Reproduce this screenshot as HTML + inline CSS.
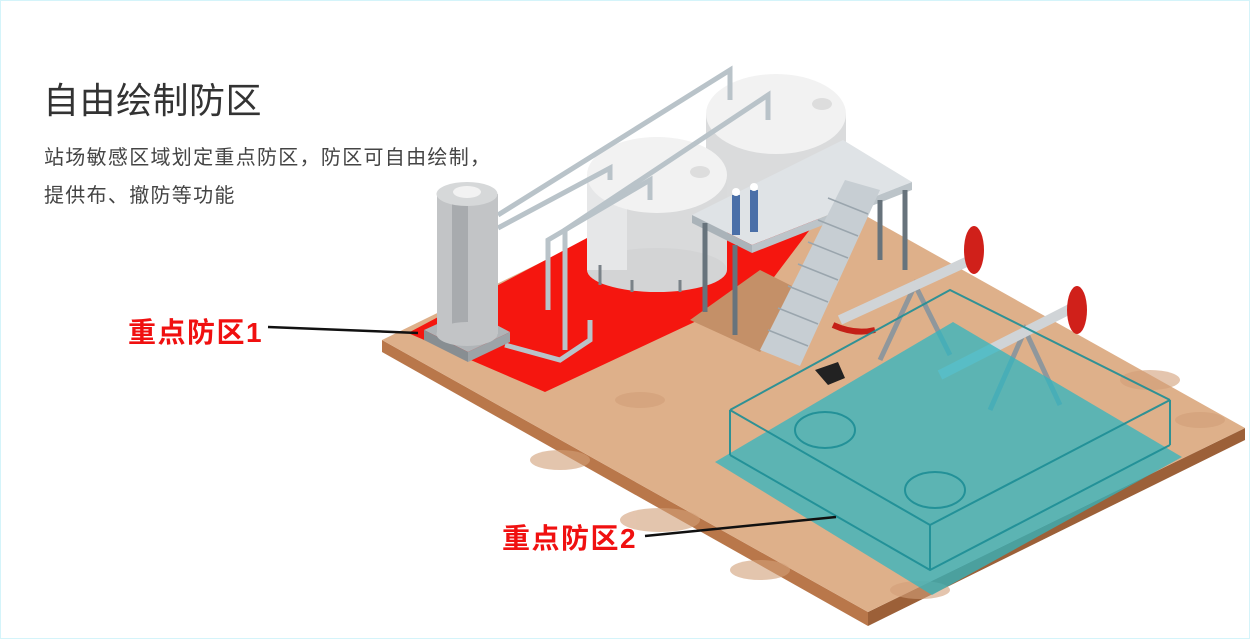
<!DOCTYPE html>
<html><head><meta charset="utf-8"><style>
html,body{margin:0;padding:0;background:#fff}
body{width:1250px;height:639px;position:relative;overflow:hidden;font-family:"Liberation Sans","Noto Sans CJK SC",sans-serif}
.t{position:absolute;left:43px;top:72px;font-size:36px;color:#333;letter-spacing:0.5px}
.s{position:absolute;left:44px;font-size:20px;color:#444;letter-spacing:1.3px}
.l{position:absolute;font-size:28px;font-weight:bold;color:#f01010;letter-spacing:1.5px}
</style></head><body>
<svg width="1250" height="639" style="position:absolute;left:0;top:0">
<rect x="0.5" y="0.5" width="1249" height="638" fill="none" stroke="#d4f4fa"/>
<polygon points="382,340 868,612 868,626 382,352" fill="#b9774a"/>
<polygon points="868,612 1245,428 1245,440 868,626" fill="#9c6038"/>
<polygon points="382,340 759,156 1245,428 868,612" fill="#deb08a"/>
<g fill="#d29f78" opacity="0.6">
<ellipse cx="560" cy="460" rx="30" ry="10"/><ellipse cx="660" cy="520" rx="40" ry="12"/><ellipse cx="760" cy="570" rx="30" ry="10"/>
<ellipse cx="640" cy="400" rx="25" ry="8"/><ellipse cx="1150" cy="380" rx="30" ry="10"/><ellipse cx="1200" cy="420" rx="25" ry="8"/>
<ellipse cx="920" cy="590" rx="30" ry="9"/>
</g>
<polygon points="408,333 545,392 765,289 830,203 760,160 587,238" fill="#f5160f"/>
<polygon points="690,320 760,352 820,300 760,270" fill="#c49068"/>
<rect x="706" y="114" width="140" height="100" fill="#dadbdc"/>
<ellipse cx="776" cy="114" rx="70" ry="40" fill="#f2f2f2"/>
<ellipse cx="822" cy="104" rx="10" ry="6" fill="#ddd"/>
<rect x="587" y="175" width="140" height="95" fill="#d9dadb"/>
<ellipse cx="657" cy="270" rx="70" ry="22" fill="#d3d4d5"/>
<rect x="587" y="175" width="40" height="95" fill="#e6e7e8"/>
<ellipse cx="657" cy="175" rx="70" ry="38" fill="#f2f2f2"/>
<ellipse cx="700" cy="172" rx="10" ry="6" fill="#ddd"/>
<g stroke="#7a8288" stroke-width="3"><line x1="600" y1="265" x2="600" y2="285"/><line x1="632" y1="280" x2="632" y2="292"/><line x1="680" y1="280" x2="680" y2="292"/></g>
<g fill="none" stroke="#b9c3c9" stroke-width="5">
<polyline points="498,215 730,70 730,100"/><polyline points="498,228 610,168 610,180"/>
<polyline points="548,310 548,240 650,180 650,200"/><polyline points="565,350 565,230 768,95 768,120"/>
<polyline points="505,345 560,360 590,340 590,320"/>
</g>
<polygon points="692,215 843,140 912,182 752,245" fill="#dfe3e6"/>
<polygon points="692,215 752,245 752,253 692,223" fill="#aab3b9"/>
<polygon points="752,245 912,182 912,190 752,253" fill="#bcc4c9"/>
<g stroke="#67737c" stroke-width="5"><line x1="705" y1="223" x2="705" y2="312"/><line x1="735" y1="245" x2="735" y2="335"/><line x1="905" y1="190" x2="905" y2="270"/><line x1="880" y1="200" x2="880" y2="260"/></g>
<polygon points="760,350 800,366 880,190 845,180" fill="#c7ced3"/>
<g stroke="#9aa5ad" stroke-width="1.5">
<line x1="768" y1="330" x2="808" y2="346"/><line x1="778" y1="308" x2="818" y2="324"/><line x1="788" y1="286" x2="828" y2="302"/><line x1="798" y1="264" x2="838" y2="280"/><line x1="808" y1="242" x2="848" y2="258"/><line x1="818" y1="220" x2="858" y2="236"/><line x1="828" y1="198" x2="868" y2="214"/></g>
<rect x="732" y="195" width="8" height="40" fill="#4a6fa8"/><rect x="750" y="190" width="8" height="42" fill="#4a6fa8"/>
<circle cx="736" cy="192" r="4" fill="#fff"/><circle cx="754" cy="187" r="4" fill="#fff"/>
<polygon points="424,330 468,352 510,332 468,310" fill="#b0b4b7"/>
<polygon points="424,330 468,352 468,362 424,340" fill="#888e92"/>
<polygon points="468,352 510,332 510,342 468,362" fill="#9da3a7"/>
<rect x="437" y="194" width="61" height="140" fill="#c2c4c6"/>
<rect x="452" y="194" width="16" height="140" fill="#a8abae"/>
<ellipse cx="467" cy="334" rx="30.5" ry="12" fill="#c2c4c6"/>
<ellipse cx="467" cy="194" rx="30.5" ry="12" fill="#d6d8d9"/>
<ellipse cx="467" cy="192" rx="14" ry="6" fill="#f2f2f2"/>
<g stroke="#8f979c" stroke-width="5" fill="none">
<polyline points="880,360 915,285 950,355"/><polyline points="990,410 1025,330 1060,405"/>
</g>
<line x1="840" y1="320" x2="975" y2="258" stroke="#d0d4d7" stroke-width="10"/>
<line x1="940" y1="375" x2="1072" y2="308" stroke="#d0d4d7" stroke-width="10"/>
<ellipse cx="974" cy="250" rx="10" ry="24" fill="#d0201a"/><ellipse cx="1077" cy="310" rx="10" ry="24" fill="#d0201a"/>
<path d="M833 325 Q855 335 875 330" stroke="#c42017" stroke-width="6" fill="none"/>
<polygon points="815,370 838,362 845,378 828,385" fill="#222"/>
<polygon points="715,462 932,595 1182,457 953,322" fill="#30b6c0" opacity="0.75"/>
<g stroke="#1d8e96" stroke-width="2" fill="none" opacity="0.9">
<polyline points="730,410 930,525 1170,400"/><polyline points="730,410 730,455"/><polyline points="930,525 930,570"/><polyline points="1170,400 1170,445"/>
<polyline points="730,455 930,570 1170,445"/>
<polyline points="730,410 950,290 1170,400"/>
<ellipse cx="825" cy="430" rx="30" ry="18"/><ellipse cx="935" cy="490" rx="30" ry="18"/>
</g>
<line x1="268" y1="327" x2="418" y2="333" stroke="#111" stroke-width="2.5"/>
<line x1="645" y1="536" x2="836" y2="517" stroke="#111" stroke-width="2.5"/>
</svg>
<div class="t">自由绘制防区</div>
<div class="s" style="top:141px">站场敏感区域划定重点防区，防区可自由绘制，</div>
<div class="s" style="top:179px">提供布、撤防等功能</div>
<div class="l" style="left:128px;top:311px">重点防区1</div>
<div class="l" style="left:502px;top:517px">重点防区2</div>
</body></html>
